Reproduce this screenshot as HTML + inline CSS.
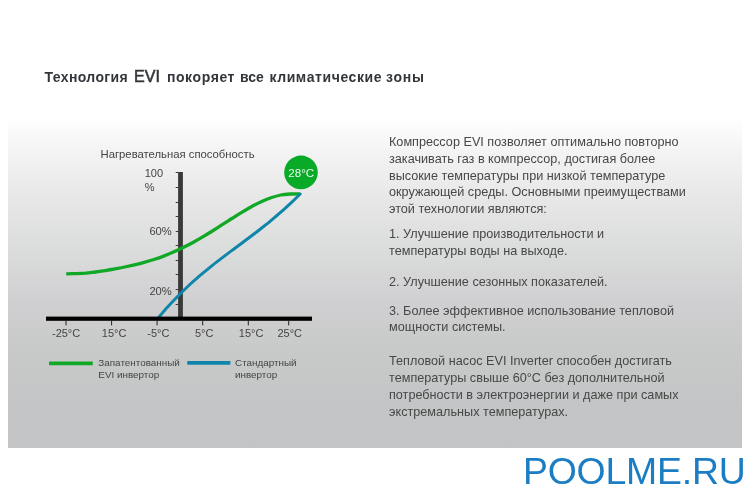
<!DOCTYPE html>
<html lang="ru">
<head>
<meta charset="utf-8">
<title>Технология EVI</title>
<style>
html,body{margin:0;padding:0;background:#fff;}
body{width:750px;height:500px;position:relative;overflow:hidden;font-family:"Liberation Sans","DejaVu Sans",sans-serif;}
#title{will-change:transform;position:absolute;left:44px;top:68.2px;width:400px;height:18px;font-size:14px;font-weight:bold;color:#32363b;white-space:nowrap;}
#title span{position:absolute;bottom:0;line-height:18px;}
#panel{position:absolute;left:8px;top:112px;width:734px;height:336px;background:linear-gradient(to bottom,#ffffff 0%,#ffffff 1.5%,#f4f4f4 11.3%,#e7e7e7 26%,#dbdcdc 41%,#d0d0d2 56%,#c8c9c9 71%,#c4c5c6 86%,#c3c4c5 100%);}
#chart{will-change:transform;position:absolute;left:0;top:0;width:750px;height:500px;}
#chart text{font-family:"Liberation Sans",sans-serif;fill:#444;}
.p{will-change:transform;position:absolute;left:389px;font-size:12.67px;line-height:16.9px;color:#474747;white-space:nowrap;}
#wm{will-change:transform;position:absolute;left:522.8px;top:450.4px;font-size:37.4px;line-height:42px;color:#1b7ec4;letter-spacing:-0.2px;white-space:nowrap;}
</style>
</head>
<body>
<div id="title"><span style="left:0.5px;letter-spacing:0.38px;font-size:14px">Технология</span> <span style="left:89.9px;bottom:0.2px;font-size:16.9px;font-weight:normal;-webkit-text-stroke:0.6px #32363b;transform:scaleX(0.95);transform-origin:0 50%">EVI</span> <span style="left:122.9px;letter-spacing:0.6px;font-size:14px">покоряет</span> <span style="left:196.1px;letter-spacing:-0.07px;font-size:14px">все</span> <span style="left:225.4px;letter-spacing:0.6px;font-size:14px">климатические</span> <span style="left:342px;letter-spacing:0.8px;font-size:14px">зоны</span></div>
<div id="panel"></div>
<svg id="chart" viewBox="0 0 750 500">
  <text x="100.5" y="157.7" font-size="11.3">Нагревательная способность</text>
  <text x="144.7" y="177.2" font-size="11">100</text>
  <text x="144.7" y="191" font-size="11">%</text>
  <text x="149.4" y="235" font-size="11.2">60%</text>
  <text x="149.4" y="295.2" font-size="11.2">20%</text>
  <g stroke="#3a3a3a" stroke-width="1">
    <line x1="175.7" x2="178.5" y1="172.5" y2="172.5"/>
    <line x1="175.7" x2="178.5" y1="187.5" y2="187.5"/>
    <line x1="175.7" x2="178.5" y1="202.5" y2="202.5"/>
    <line x1="175.7" x2="178.5" y1="216.5" y2="216.5"/>
    <line x1="175.7" x2="178.5" y1="231.5" y2="231.5"/>
    <line x1="175.7" x2="178.5" y1="245.5" y2="245.5"/>
    <line x1="175.7" x2="178.5" y1="260.5" y2="260.5"/>
    <line x1="175.7" x2="178.5" y1="274.5" y2="274.5"/>
    <line x1="175.7" x2="178.5" y1="289.5" y2="289.5"/>
    <line x1="175.7" x2="178.5" y1="304.5" y2="304.5"/>
  </g>
  <rect x="178.1" y="172" width="4.8" height="146" fill="#393939"/>
  <path d="M66.2,273.9 C67.8,273.8 72.7,273.7 76.0,273.6 C79.2,273.5 82.5,273.4 85.7,273.2 C89.0,272.9 92.2,272.4 95.5,272.0 C98.7,271.6 102.0,271.1 105.2,270.6 C108.5,270.0 111.7,269.5 115.0,268.9 C118.2,268.3 121.5,267.7 124.7,267.0 C128.0,266.3 131.2,265.6 134.4,264.9 C137.7,264.1 140.9,263.3 144.2,262.4 C147.4,261.5 150.7,260.5 153.9,259.5 C157.2,258.4 160.4,257.3 163.7,256.1 C166.9,254.9 170.2,253.5 173.4,252.1 C176.7,250.7 179.9,249.2 183.2,247.6 C186.4,246.0 189.7,244.3 192.9,242.5 C196.2,240.7 199.4,238.9 202.7,236.9 C205.9,235.0 209.2,233.0 212.4,231.0 C215.7,228.9 218.9,226.8 222.2,224.7 C225.4,222.7 228.7,220.5 231.9,218.5 C235.2,216.4 238.4,214.3 241.7,212.4 C244.9,210.4 248.2,208.5 251.4,206.7 C254.7,205.0 257.9,203.3 261.2,201.8 C264.4,200.3 267.7,198.9 270.9,197.8 C274.2,196.7 277.4,195.7 280.7,195.0 C283.9,194.4 287.2,194.2 290.4,194.0 C293.7,193.8 298.6,193.8 300.2,193.8" fill="none" stroke="#10a826" stroke-width="3.3" stroke-linecap="butt" stroke-linejoin="round"/>
  <path d="M157.5,318.8 C159.3,316.7 164.8,310.1 168.5,306.1 C172.1,302.0 175.8,298.2 179.5,294.5 C183.1,290.9 186.8,287.4 190.4,284.0 C194.1,280.7 197.7,277.5 201.4,274.4 C205.1,271.3 208.7,268.4 212.4,265.4 C216.0,262.5 219.7,259.7 223.4,256.9 C227.0,254.1 230.7,251.4 234.3,248.7 C238.0,245.9 241.7,243.3 245.3,240.5 C249.0,237.8 252.6,235.0 256.3,232.2 C260.0,229.4 263.6,226.5 267.3,223.6 C270.9,220.6 274.6,217.6 278.2,214.4 C281.9,211.3 285.6,208.0 289.2,204.6 C292.9,201.2 298.4,195.8 300.2,194.0" fill="none" stroke="#0f86a9" stroke-width="3" stroke-linecap="round"/>
  <rect x="46" y="316.6" width="266" height="4.2" fill="#000"/>
  <g stroke="#222" stroke-width="1">
    <line x1="66" x2="66" y1="320.5" y2="325.4"/>
    <line x1="111.6" x2="111.6" y1="320.5" y2="325.4"/>
    <line x1="157.1" x2="157.1" y1="320.5" y2="325.4"/>
    <line x1="202.7" x2="202.7" y1="320.5" y2="325.4"/>
    <line x1="248.3" x2="248.3" y1="320.5" y2="325.4"/>
    <line x1="288.7" x2="288.7" y1="320.5" y2="325.4"/>
  </g>
  <circle cx="301" cy="172.4" r="16.8" fill="#08aa28"/>
  <text x="301.2" y="176.8" font-size="11.6" text-anchor="middle" style="fill:#eafbe9">28°C</text>
  <g font-size="11" text-anchor="middle">
    <text x="66.1" y="337.3">-25°C</text>
    <text x="114.1" y="337.3">15°C</text>
    <text x="158.3" y="337.3">-5°C</text>
    <text x="204.2" y="337.3">5°C</text>
    <text x="251.1" y="337.3">15°C</text>
    <text x="289.7" y="337.3">25°C</text>
  </g>
  <rect x="49" y="361.5" width="43.8" height="3.8" rx="0.6" fill="#10a826"/>
  <rect x="187.2" y="360.9" width="43.2" height="3.8" rx="0.6" fill="#0f86a9"/>
  <g font-size="9.9">
    <text x="98.3" y="365.6">Запатентованный</text>
    <text x="98.3" y="378">EVI инвертор</text>
    <text x="235" y="365.6">Стандартный</text>
    <text x="235" y="378">инвертор</text>
  </g>
</svg>
<div class="p" style="top:134.1px;line-height:16.75px">Компрессор EVI позволяет оптимально повторно<br>закачивать газ в компрессор, достигая более<br>высокие температуры при низкой температуре<br>окружающей среды. Основными преимуществами<br>этой технологии являются:</div>
<div class="p" style="top:226px;line-height:16.6px">1. Улучшение производительности и<br>температуры воды на выходе.</div>
<div class="p" style="top:273.8px">2. Улучшение сезонных показателей.</div>
<div class="p" style="top:302.6px;line-height:16.2px">3. Более эффективное использование тепловой<br>мощности системы.</div>
<div class="p" style="top:353.3px">Тепловой насос EVI Inverter способен достигать<br>температуры свыше 60°C без дополнительной<br>потребности в электроэнергии и даже при самых<br>экстремальных температурах.</div>
<div id="wm">POOLME.RU</div>
</body>
</html>
